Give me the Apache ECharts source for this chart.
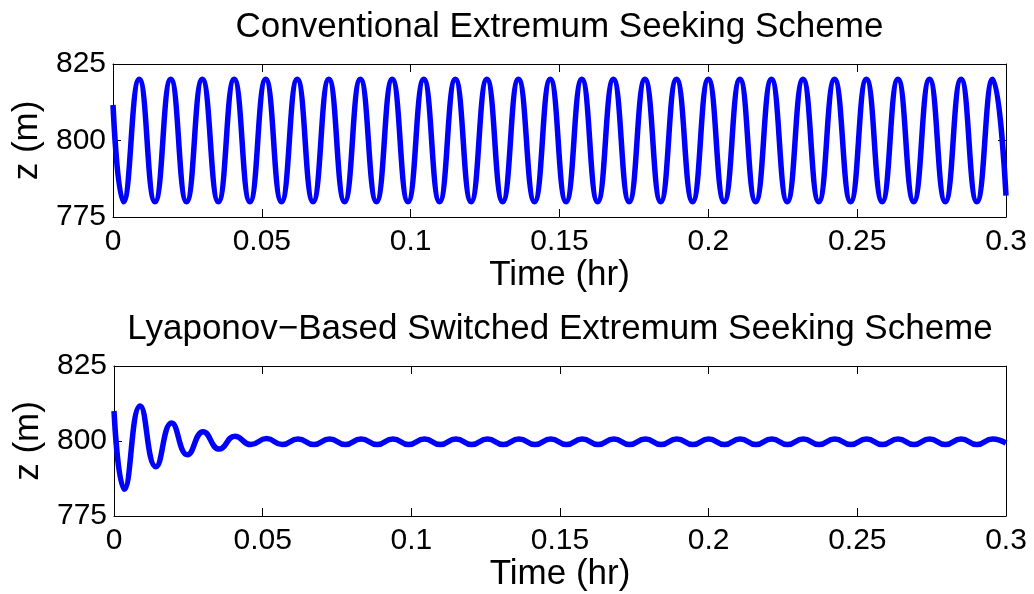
<!DOCTYPE html>
<html>
<head>
<meta charset="utf-8">
<script src="https://cdn.jsdelivr.net/npm/echarts@6/dist/echarts.min.js"></script>
<style>
html,body{margin:0;padding:0;background:#fff;}
#chart{width:1034px;height:594px;}
</style>
</head>
<body>
<div id="chart"></div>
<script>
// ---- data (local extrema of the traces) ----
var topTitle = 'Conventional Extremum Seeking Scheme';
var bottomTitle = 'Lyaponov\u2212Based Switched Extremum Seeking Scheme';
var xLabel = 'Time (hr)';
var yLabel = 'z (m)';

var timeHr = [0, 0.0035, 0.0088, 0.0141, 0.0194, 0.0247, 0.0300, 0.0354, 0.0407, 0.0460,
  0.0513, 0.0566, 0.0619, 0.0672, 0.0725, 0.0778, 0.0831, 0.0885, 0.0938, 0.0991,
  0.1044, 0.1097, 0.1150, 0.1203, 0.1256, 0.1309, 0.1362, 0.1416, 0.1469, 0.1522,
  0.1575, 0.1628, 0.1681, 0.1734, 0.1787, 0.1840, 0.1893, 0.1947, 0.2000, 0.2053,
  0.2106, 0.2159, 0.2212, 0.2265, 0.2318, 0.2371, 0.2424, 0.2478, 0.2531, 0.2584,
  0.2637, 0.2690, 0.2743, 0.2796, 0.2849, 0.2902, 0.2955, 0.3];

var zConventional = [811.6, 780, 820, 780, 820, 780, 820, 780, 820, 780,
  820, 780, 820, 780, 820, 780, 820, 780, 820, 780,
  820, 780, 820, 780, 820, 780, 820, 780, 820, 780,
  820, 780, 820, 780, 820, 780, 820, 780, 820, 780,
  820, 780, 820, 780, 820, 780, 820, 780, 820, 780,
  820, 780, 820, 780, 820, 780, 820, 782];

var zLyapunov = [810, 783.9, 811.7, 791.4, 806, 795.4, 803.1, 797.3, 801.6, 798.8,
  800.8, 798.8, 800.7, 798.8, 800.7, 798.8, 800.7, 798.8, 800.7, 798.8,
  800.7, 798.8, 800.7, 798.8, 800.7, 798.8, 800.7, 798.8, 800.7, 798.8,
  800.7, 798.8, 800.7, 798.8, 800.7, 798.8, 800.7, 798.8, 800.7, 798.8,
  800.7, 798.8, 800.7, 798.8, 800.7, 798.8, 800.7, 798.8, 800.7, 798.8,
  800.7, 798.8, 800.7, 798.8, 800.7, 798.8, 800.7, 799.3];

var xMin = 0, xMax = 0.3, xStep = 0.05;
var yMin = 775, yMax = 825, yStep = 25;

// ---- chart ----
var FONT = "'Liberation Sans', Arial, Helvetica, sans-serif";
var TICK_FS = 30, LABEL_FS = 35;
function pair(t, z) { return t.map(function (v, i) { return [v, z[i]]; }); }
function fmtX(v) { return String(+(+v).toFixed(2)); }

var lineStyleAxis = { color: '#000', width: 1 };
function xAxisMain(gi) {
  return {
    type: 'value', gridIndex: gi, position: 'bottom', min: xMin, max: xMax, interval: xStep,
    axisLine: { show: true, onZero: false, lineStyle: lineStyleAxis },
    axisTick: { show: true, inside: true, length: 8, lineStyle: lineStyleAxis },
    axisLabel: { show: true, color: '#000', fontSize: TICK_FS, fontFamily: FONT, margin: 10, formatter: fmtX },
    splitLine: { show: false },
    name: xLabel, nameLocation: 'middle', nameGap: 39,
    nameTextStyle: { color: '#000', fontSize: LABEL_FS, fontFamily: FONT }
  };
}
function xAxisTop(gi, title) {
  return {
    type: 'value', gridIndex: gi, position: 'top', min: xMin, max: xMax, interval: xStep,
    axisLine: { show: true, onZero: false, lineStyle: lineStyleAxis },
    axisTick: { show: true, inside: true, length: 8, lineStyle: lineStyleAxis },
    axisLabel: { show: false },
    splitLine: { show: false },
    name: title, nameLocation: 'middle', nameGap: 19,
    nameTextStyle: { color: '#000', fontSize: LABEL_FS, fontFamily: FONT }
  };
}
function yAxisMain(gi) {
  return {
    type: 'value', gridIndex: gi, position: 'left', min: yMin, max: yMax, interval: yStep,
    axisLine: { show: true, onZero: false, lineStyle: lineStyleAxis },
    axisTick: { show: true, inside: true, length: 8, lineStyle: lineStyleAxis },
    axisLabel: { show: true, color: '#000', fontSize: TICK_FS, fontFamily: FONT, margin: 7 },
    splitLine: { show: false },
    name: yLabel, nameLocation: 'middle', nameGap: 63, nameRotate: 90,
    nameTextStyle: { color: '#000', fontSize: LABEL_FS, fontFamily: FONT }
  };
}
function yAxisRight(gi) {
  return {
    type: 'value', gridIndex: gi, position: 'right', min: yMin, max: yMax, interval: yStep,
    axisLine: { show: true, onZero: false, lineStyle: lineStyleAxis },
    axisTick: { show: true, inside: true, length: 8, lineStyle: lineStyleAxis },
    axisLabel: { show: false },
    splitLine: { show: false }
  };
}

var chart = echarts.init(document.getElementById('chart'), null, { renderer: 'canvas' });
chart.setOption({
  animation: false,
  backgroundColor: '#fff',
  grid: [
    { left: 113, right: 28, top: 64, height: 153 },
    { left: 114, right: 28, top: 366, height: 150 }
  ],
  xAxis: [xAxisMain(0), xAxisTop(0, topTitle), xAxisMain(1), xAxisTop(1, bottomTitle)],
  yAxis: [yAxisMain(0), yAxisRight(0), yAxisMain(1), yAxisRight(1)],
  series: [
    { type: 'line', xAxisIndex: 0, yAxisIndex: 0, data: pair(timeHr, zConventional),
      smooth: 0.5, symbol: 'none', clip: true, lineStyle: { color: '#0000ff', width: 5.5 } },
    { type: 'line', xAxisIndex: 2, yAxisIndex: 2, data: pair(timeHr, zLyapunov),
      smooth: 0.5, symbol: 'none', clip: true, lineStyle: { color: '#0000ff', width: 5.5 } }
  ]
});
</script>
</body>
</html>
